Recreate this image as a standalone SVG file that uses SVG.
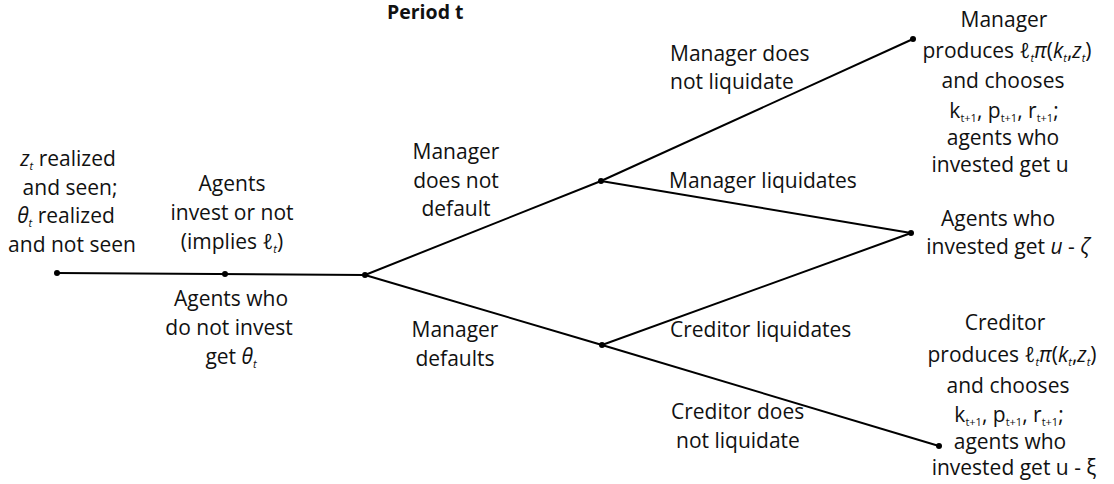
<svg xmlns="http://www.w3.org/2000/svg" width="1114" height="484" viewBox="0 0 1114 484">
<style>
text{font-family:"Open Sans","Liberation Sans",sans-serif;font-size:21px;fill:#111}
.c{text-anchor:middle}
.b{font-weight:bold;font-size:19.5px}
.i{font-style:italic}
.s{font-size:11px}
.e{stroke:#000;stroke-width:2;fill:none}
.d{fill:#000}
</style>
<rect width="1114" height="484" fill="#fff"/>
<text id="title" class="b" x="387" y="19">Period t</text>
<g id="connectors">
<line class="e" x1="57" y1="273" x2="365" y2="275"/>
<line class="e" x1="365" y1="275" x2="601" y2="181"/>
<line class="e" x1="601" y1="181" x2="913" y2="39"/>
<line class="e" x1="601" y1="181" x2="911" y2="233"/>
<line class="e" x1="365" y1="275" x2="602" y2="345"/>
<line class="e" x1="602" y1="345" x2="911" y2="233"/>
<line class="e" x1="602" y1="345" x2="939" y2="446"/>
</g>
<g id="n-start">
<circle class="d" cx="57" cy="273" r="3"/>
<text class="c" x="68" y="166"><tspan class="i">z</tspan><tspan class="s i" dy="4">t</tspan><tspan dy="-4"> realized</tspan></text>
<text class="c" x="70" y="195">and seen;</text>
<text class="c" x="66" y="223"><tspan class="i">θ</tspan><tspan class="s i" dy="4">t</tspan><tspan dy="-4"> realized</tspan></text>
<text class="c" x="72" y="252">and not seen</text>
</g>
<g id="n-invest">
<circle class="d" cx="225" cy="274" r="3"/>
<text class="c" x="232" y="191">Agents</text>
<text class="c" x="232" y="220">invest or not</text>
<text class="c" x="232" y="249">(implies <tspan class="i">ℓ</tspan><tspan class="s i" dy="4">t</tspan><tspan dy="-4">)</tspan></text>
<text class="c" x="231" y="306">Agents who</text>
<text class="c" x="229" y="335">do not invest</text>
<text class="c" x="231" y="364">get <tspan class="i">θ</tspan><tspan class="s i" dy="4">t</tspan></text>
</g>
<g id="n-default">
<circle class="d" cx="365" cy="275" r="3"/>
<text class="c" x="456" y="159">Manager</text>
<text class="c" x="456" y="188">does not</text>
<text class="c" x="456" y="216">default</text>
<text class="c" x="455" y="337">Manager</text>
<text class="c" x="455" y="366">defaults</text>
</g>
<g id="n-mgr">
<circle class="d" cx="601" cy="181" r="3"/>
<text x="670" y="61">Manager does</text>
<text x="670" y="89">not liquidate</text>
<text x="669" y="188">Manager liquidates</text>
</g>
<g id="n-cred">
<circle class="d" cx="602" cy="345" r="3"/>
<text x="670" y="337">Creditor liquidates</text>
<text x="671" y="419">Creditor does</text>
<text x="676" y="448">not liquidate</text>
</g>
<g id="n-mgr-produce">
<circle class="d" cx="913" cy="39" r="3"/>
<text class="c" x="1004" y="27">Manager</text>
<text class="c" x="1007" y="58">produces <tspan class="i">ℓ</tspan><tspan class="s i" dy="4">t</tspan><tspan class="i" dy="-4">π</tspan>(<tspan class="i">k</tspan><tspan class="s i" dy="4">t</tspan><tspan dy="-4">,</tspan><tspan class="i">z</tspan><tspan class="s i" dy="4">t</tspan><tspan dy="-4">)</tspan></text>
<text class="c" x="1003" y="88">and chooses</text>
<text class="c" x="1004" y="118">k<tspan class="s" dy="4">t+1</tspan><tspan dy="-4">, p</tspan><tspan class="s" dy="4">t+1</tspan><tspan dy="-4">, r</tspan><tspan class="s" dy="4">t+1</tspan><tspan dy="-4">;</tspan></text>
<text class="c" x="1003" y="145">agents who</text>
<text class="c" x="1000" y="172">invested get u</text>
</g>
<g id="n-liq">
<circle class="d" cx="911" cy="233" r="3"/>
<text class="c" x="998" y="226">Agents who</text>
<text class="c" x="1008" y="254">invested get <tspan class="i">u</tspan> - <tspan class="i">ζ</tspan></text>
</g>
<g id="n-cred-produce">
<circle class="d" cx="939" cy="446" r="3"/>
<text class="c" x="1005" y="330">Creditor</text>
<text class="c" x="1012" y="362">produces <tspan class="i">ℓ</tspan><tspan class="s i" dy="4">t</tspan><tspan class="i" dy="-4">π</tspan>(<tspan class="i">k</tspan><tspan class="s i" dy="4">t</tspan><tspan dy="-4">,</tspan><tspan class="i">z</tspan><tspan class="s i" dy="4">t</tspan><tspan dy="-4">)</tspan></text>
<text class="c" x="1008" y="393">and chooses</text>
<text class="c" x="1009" y="422">k<tspan class="s" dy="4">t+1</tspan><tspan dy="-4">, p</tspan><tspan class="s" dy="4">t+1</tspan><tspan dy="-4">, r</tspan><tspan class="s" dy="4">t+1</tspan><tspan dy="-4">;</tspan></text>
<text class="c" x="1010" y="449">agents who</text>
<text class="c" x="1014" y="475">invested get u - ξ</text>
</g>
</svg>
